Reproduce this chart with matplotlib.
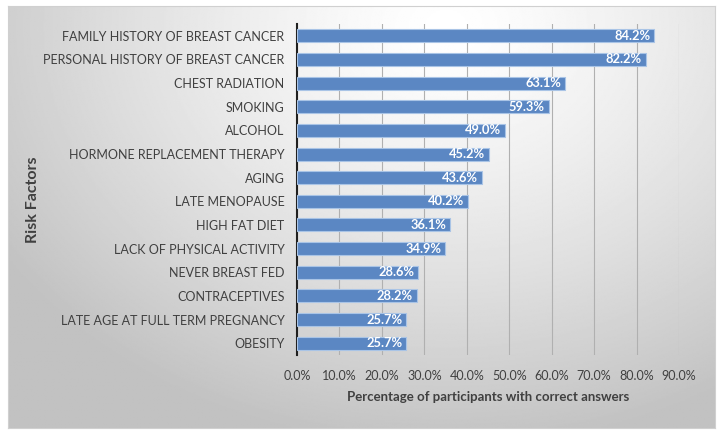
import matplotlib.pyplot as plt
import numpy as np
from matplotlib.ticker import FuncFormatter

factors = ['FAMILY HISTORY OF BREAST CANCER', 'PERSONAL HISTORY OF BREAST CANCER',
           'CHEST RADIATION', 'SMOKING', 'ALCOHOL', 'HORMONE REPLACEMENT THERAPY',
           'AGING', 'LATE MENOPAUSE', 'HIGH FAT DIET', 'LACK OF PHYSICAL ACTIVITY',
           'NEVER BREAST FED', 'CONTRACEPTIVES', 'LATE AGE AT FULL TERM PREGNANCY',
           'OBESITY']
percent = [84.2, 82.2, 63.1, 59.3, 49.0, 45.2, 43.6, 40.2, 36.1, 34.9, 28.6, 28.2, 25.7, 25.7]
xticks = [0, 10, 20, 30, 40, 50, 60, 70, 80, 90]

plt.rcParams['font.family'] = ['Lato', 'DejaVu Sans']
txt = '#404040'

fig = plt.figure(figsize=(7.19, 4.36), dpi=100)
fig.patch.set_facecolor('white')

# gradient background of the chart area
bg = fig.add_axes([8/719, 8/436, 707/719, 422/436])
yy, xx = np.mgrid[0:1:300j, 0:1:500j]
r = np.sqrt(((xx - 0.62) / 0.75) ** 2 + ((yy - 0.05) / 1.0) ** 2)
shade = 1 - 0.24 * np.clip(r, 0, 1) ** 1.3
bg.imshow(shade, cmap='gray', vmin=0, vmax=1, aspect='auto', extent=[0, 1, 1, 0])
bg.set_xticks([])
bg.set_yticks([])
for s in bg.spines.values():
    s.set_color('#d0d0d0')

ax = fig.add_axes([297/719, 81/436, 382/719, 331/436])
ax.set_facecolor('none')
y = np.arange(len(factors))
bars = ax.barh(y, percent, height=0.55, color='#5b87c3', edgecolor='#a9c4e6', linewidth=0.8, zorder=3)
for yi, v in zip(y, percent):
    ax.text(v - 0.9, yi, f'{v:.1f}%', ha='right', va='center', color='white',
            fontsize=9.3, fontweight='bold', zorder=4)

ax.set_xlim(0, 90)
ax.set_ylim(len(factors) - 0.5, -0.5)
ax.set_xticks(xticks)
ax.xaxis.set_major_formatter(FuncFormatter(lambda v, p: f'{v:.1f}%'))
ax.set_yticks(y)
ax.set_yticklabels(factors)
ax.tick_params(axis='both', length=0, colors=txt, labelsize=9)
ax.tick_params(axis='x', pad=11)
ax.tick_params(axis='y', pad=9)
ax.grid(axis='x', color='#b0b0b0', linewidth=0.8, zorder=0)
for s in ['top', 'right', 'bottom']:
    ax.spines[s].set_visible(False)
ax.spines['left'].set_color('#202020')
ax.spines['left'].set_linewidth(1.5)
ax.set_xlabel('Percentage of participants with correct answers', color=txt,
              fontsize=9.5, fontweight='bold', labelpad=6)
fig.text(33/719, 0.541, 'Risk Factors', rotation=90, ha='center', va='center',
         color=txt, fontsize=11.5, fontweight='bold')

plt.savefig('out.png', dpi=100)
